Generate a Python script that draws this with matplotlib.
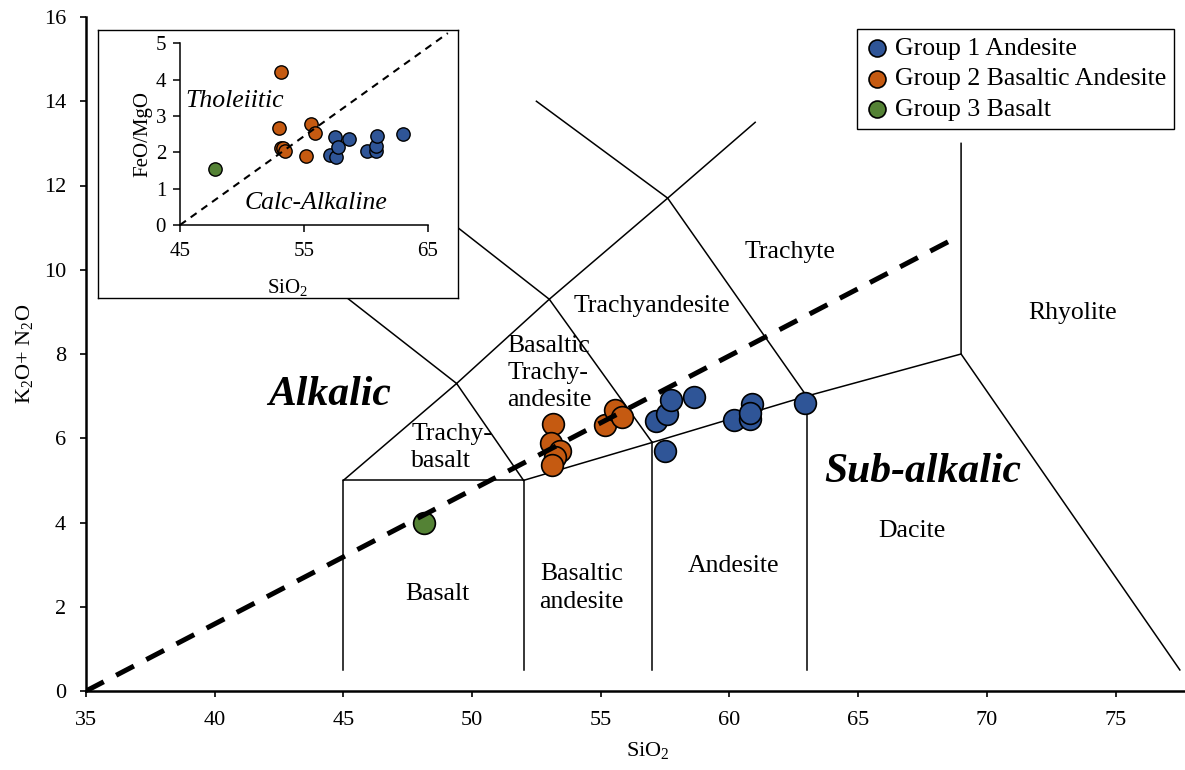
import matplotlib
matplotlib.use("Agg")
import matplotlib.pyplot as plt

plt.rcParams['font.family'] = ['Liberation Serif', 'DejaVu Serif']
plt.rcParams['mathtext.default'] = 'regular'

# TAS diagram data (SiO2 vs total alkalis)
g1_sio2 = [57.16, 57.59, 57.71, 58.64, 57.51, 60.16, 60.86, 60.78, 60.78, 62.92]
g1_alk = [6.41, 6.58, 6.91, 6.98, 5.70, 6.44, 6.82, 6.46, 6.60, 6.84]
g2_sio2 = [53.16, 53.08, 53.43, 53.24, 53.12, 55.18, 55.57, 55.84]
g2_alk = [6.34, 5.89, 5.70, 5.56, 5.37, 6.32, 6.67, 6.51]
g3_sio2 = [48.14]
g3_alk = [3.99]

# FeO/MgO vs SiO2 (inset)
g1_sio2_in = [57.13, 57.48, 57.56, 57.75, 58.64, 60.09, 60.79, 60.84, 60.89, 62.99]
g1_fm = [1.94, 2.43, 1.88, 2.16, 2.36, 2.04, 2.05, 2.17, 2.46, 2.50]
g2_sio2_in = [53.13, 53.00, 55.60, 55.87, 53.13, 53.30, 53.50, 55.20]
g2_fm = [4.22, 2.66, 2.77, 2.52, 2.11, 2.12, 2.04, 1.91]
g3_sio2_in = [47.82]
g3_fm = [1.53]

labels = ['Group 1 Andesite', 'Group 2 Basaltic Andesite', 'Group 3 Basalt']
colors = ['#2F5597', '#C55A11', '#548235']

# field boundaries of the TAS classification
boundaries = [
    [(45, 0.5), (45, 5), (52, 5), (52, 0.5)],
    [(57, 0.5), (57, 5.9)],
    [(63, 0.5), (63, 7)],
    [(52, 5), (57, 5.9), (63, 7), (69, 8)],
    [(45, 5), (49.4, 7.3), (52, 5)],
    [(49.4, 7.3), (53, 9.3), (57, 5.9)],
    [(53, 9.3), (57.6, 11.7), (63, 7)],
    [(57.6, 11.7), (61, 13.5)],
    [(57.6, 11.7), (52.5, 14)],
    [(49.4, 7.3), (45, 9.4)],
    [(53, 9.3), (48.4, 11.5)],
    [(69, 13), (69, 8), (77.5, 0.5)],
]

fig = plt.figure(figsize=(11.85, 7.7), dpi=100)
ax = fig.add_axes([86/1185, 79/770, 1099/1185, 674/770])

for seg in boundaries:
    xs, ys = zip(*seg)
    ax.plot(xs, ys, color='black', lw=1.1, zorder=1)

ax.plot([35, 68.8], [0, 10.76], color='black', lw=3.6, dashes=(4, 2.8),
        zorder=4, solid_capstyle='butt', dash_capstyle='butt')

ms = 245
h2 = ax.scatter(g2_sio2, g2_alk, s=ms, c=colors[1], edgecolors='black', linewidths=1.2, zorder=3)
h3 = ax.scatter(g3_sio2, g3_alk, s=ms, c=colors[2], edgecolors='black', linewidths=1.2, zorder=3)
h1 = ax.scatter(g1_sio2, g1_alk, s=ms, c=colors[0], edgecolors='black', linewidths=1.2, zorder=5)

ax.set_xlim(35, 77.7)
ax.set_ylim(0, 16)
ax.set_xticks(range(35, 80, 5))
ax.set_yticks(range(0, 17, 2))
ax.spines['top'].set_visible(False)
ax.spines['right'].set_visible(False)
ax.spines['left'].set_linewidth(1.8)
ax.spines['bottom'].set_linewidth(1.8)
ax.tick_params(direction='out', length=4.5, width=1.2, pad=10, labelsize=16)
ax.set_xlabel('SiO$_2$', fontsize=16)
ax.xaxis.set_label_coords(0.511, -0.073)
ax.set_ylabel('K$_2$O+ N$_2$O', fontsize=16, labelpad=6)

fs = 18.5
ax.text(62.37, 10.43, 'Trachyte', fontsize=fs, ha='center', va='center')
ax.text(73.34, 8.98, 'Rhyolite', fontsize=fs, ha='center', va='center')
ax.text(56.97, 9.14, 'Trachyandesite', fontsize=fs, ha='center', va='center')
ax.text(51.37, 7.55, 'Basaltic\nTrachy-\nandesite', fontsize=fs, ha='left', va='center',
        linespacing=1.3)
ax.text(47.64, 5.77, 'Trachy-\nbasalt', fontsize=fs, ha='left', va='center', linespacing=1.3)
ax.text(54.25, 2.45, 'Basaltic\nandesite', fontsize=fs, ha='center', va='center',
        linespacing=1.35)
ax.text(60.16, 2.97, 'Andesite', fontsize=fs, ha='center', va='center')
ax.text(67.08, 3.80, 'Dacite', fontsize=fs, ha='center', va='center')
ax.text(48.65, 2.30, 'Basalt', fontsize=fs, ha='center', va='center')
ax.text(44.45, 7.03, 'Alkalic', fontsize=30, fontweight='bold', style='italic',
        ha='center', va='center')
ax.text(67.5, 5.2, 'Sub-alkalic', fontsize=30, fontweight='bold', style='italic',
        ha='center', va='center')

leg = ax.legend([h1, h2, h3], labels, loc='upper right', fontsize=fs,
                bbox_to_anchor=(1174/1185, 741/770), bbox_transform=fig.transFigure,
                borderaxespad=0, markerscale=0.78, handlelength=1.0, handletextpad=0.2,
                labelspacing=0.3, borderpad=0.3, fancybox=False, framealpha=1,
                edgecolor='black')
leg.get_frame().set_linewidth(1.0)

# inset: outer white box, then the FeO/MgO plot itself
box = fig.add_axes([98/1185, (770-298)/770, 360/1185, 268/770])
box.set_xticks([])
box.set_yticks([])
for sp in box.spines.values():
    sp.set_linewidth(1.0)
box.set_zorder(10)

axi = fig.add_axes([180/1185, (770-225)/770, 248/1185, 181.7/770])
axi.set_zorder(11)
axi.patch.set_alpha(0)
axi.set_xlim(45, 65)
axi.set_ylim(0, 5)
axi.set_xticks([45, 55, 65])
axi.set_yticks(range(0, 6))
axi.spines['top'].set_visible(False)
axi.spines['right'].set_visible(False)
axi.spines['left'].set_linewidth(1.1)
axi.spines['bottom'].set_linewidth(1.1)
axi.tick_params(direction='out', length=5, width=1.1, labelsize=15)
axi.tick_params(axis='y', pad=5)
axi.tick_params(axis='x', pad=7)
axi.set_xlabel('SiO$_2$', fontsize=15)
axi.xaxis.set_label_coords(0.435, -0.285)
axi.set_ylabel('FeO/MgO', fontsize=15, labelpad=2)

axi.plot([45, 66.6], [0, 5.28], color='black', lw=1.5, dashes=(3.5, 2.8),
         clip_on=False, zorder=4)
mi = 92
axi.scatter(g2_sio2_in, g2_fm, s=mi, c=colors[1], edgecolors='black', linewidths=1.0, zorder=3)
axi.scatter(g3_sio2_in, g3_fm, s=mi, c=colors[2], edgecolors='black', linewidths=1.0, zorder=3)
axi.scatter(g1_sio2_in, g1_fm, s=mi, c=colors[0], edgecolors='black', linewidths=1.0, zorder=5)

axi.text(49.43, 3.4, 'Tholeiitic', fontsize=fs, style='italic', ha='center', va='center')
axi.text(56.0, 0.61, 'Calc-Alkaline', fontsize=fs, style='italic', ha='center', va='center')

fig.savefig('out.png', dpi=100)
